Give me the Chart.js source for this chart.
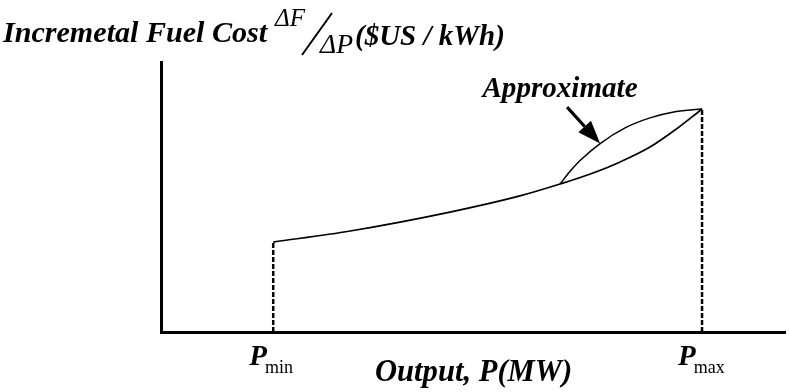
<!DOCTYPE html>
<html>
<head>
<meta charset="utf-8">
<script src="https://cdn.jsdelivr.net/npm/chart.js@4"></script>
<style>
  html, body { margin: 0; padding: 0; background: #fff; }
  #wrap { width: 789px; height: 392px; }
</style>
</head>
<body>
<div id="wrap"><canvas id="costChart"></canvas></div>
<script>
// output axis (arbitrary MW units) and incremental cost (arbitrary $/kWh units)
const pMin = 2.07;
const pMax = 9.98;
const xMax = 11.51;
const yMax = 10;

// actual incremental cost curve
const actualX = [2.07, 3.49, 5.33, 6.62, 7.36, 7.92, 8.47, 9.02, 9.48, 9.98];
const actualY = [3.33, 3.74, 4.44, 5.04, 5.48, 5.85, 6.30, 6.85, 7.48, 8.26];

// approximate curve over the upper segment
const approxX = [7.36, 7.55, 7.73, 8.10, 8.56, 9.02, 9.48, 9.98];
const approxY = [5.48, 5.96, 6.35, 6.98, 7.56, 7.93, 8.16, 8.26];

// arrow pointing at the approximate curve (data units)
const arrowFrom = [7.49, 8.33];
const arrowTo = [8.10, 6.98];
const approxLabelAt = [7.36, 8.70];

const tickLabels = [
    { value: pMin, main: 'P', sub: 'min' },
    { value: pMax, main: 'P', sub: 'max' }
];

const toPoints = (xs, ys) => xs.map((x, i) => ({ x: x, y: ys[i] }));

const serif = '"Liberation Serif", "Times New Roman", serif';

function fitFont(ctx, text, width, style) {
    ctx.font = style + ' 100px ' + serif;
    const size = 100 * width / ctx.measureText(text).width;
    ctx.font = style + ' ' + size.toFixed(1) + 'px ' + serif;
}

const drawingPlugin = {
    id: 'drawing',
    afterDatasetsDraw(chart) {
        const ctx = chart.ctx;
        const xs = chart.scales.x;
        const ys = chart.scales.y;
        ctx.save();
        ctx.fillStyle = '#000';
        ctx.strokeStyle = '#000';

        // arrow
        const x1 = xs.getPixelForValue(arrowFrom[0]);
        const y1 = ys.getPixelForValue(arrowFrom[1]);
        const x2 = xs.getPixelForValue(arrowTo[0]);
        const y2 = ys.getPixelForValue(arrowTo[1]);
        const ang = Math.atan2(y2 - y1, x2 - x1);
        const headLen = 23, headW = 8.5;
        const bx = x2 - headLen * Math.cos(ang);
        const by = y2 - headLen * Math.sin(ang);
        ctx.lineWidth = 3.2;
        ctx.beginPath();
        ctx.moveTo(x1, y1);
        ctx.lineTo(bx, by);
        ctx.stroke();
        ctx.beginPath();
        ctx.moveTo(x2, y2);
        ctx.lineTo(bx + headW * Math.sin(ang), by - headW * Math.cos(ang));
        ctx.lineTo(bx - headW * Math.sin(ang), by + headW * Math.cos(ang));
        ctx.closePath();
        ctx.fill();

        // "Approximate" label
        ctx.textAlign = 'center';
        ctx.textBaseline = 'alphabetic';
        fitFont(ctx, 'Approximate', 155, 'italic bold');
        ctx.fillText('Approximate', xs.getPixelForValue(approxLabelAt[0]), ys.getPixelForValue(approxLabelAt[1]));

        // tick labels P_min, P_max
        tickLabels.forEach(t => {
            const px = xs.getPixelForValue(t.value);
            ctx.textAlign = 'left';
            ctx.font = 'italic bold 29px ' + serif;
            const pw = ctx.measureText(t.main).width;
            const left = px - 24;
            ctx.fillText(t.main, left, 365);
            ctx.font = '18px ' + serif;
            ctx.fillText(t.sub, left + pw - 2, 373);
        });

        // x axis title
        ctx.textAlign = 'left';
        fitFont(ctx, 'Output, P(MW)', 197, 'italic bold');
        ctx.fillText('Output, P(MW)', 375, 381);

        // y axis title
        fitFont(ctx, 'Incremetal Fuel Cost', 264, 'italic bold');
        ctx.fillText('Incremetal Fuel Cost', 3, 42);
        fitFont(ctx, '\u0394F', 30, 'italic');
        ctx.fillText('\u0394F', 275, 26);
        ctx.lineWidth = 2;
        ctx.beginPath();
        ctx.moveTo(302, 55);
        ctx.lineTo(332, 13);
        ctx.stroke();
        fitFont(ctx, '\u0394P', 33, 'italic');
        ctx.fillText('\u0394P', 320, 53);
        fitFont(ctx, '($US / kWh)', 150, 'italic bold');
        ctx.fillText('($US / kWh)', 355, 45);

        ctx.restore();
    }
};

new Chart(document.getElementById('costChart'), {
    type: 'line',
    data: {
        datasets: [
            {
                label: 'Actual',
                data: toPoints(actualX, actualY),
                borderColor: '#000',
                borderWidth: 1.7,
                cubicInterpolationMode: 'monotone',
                pointRadius: 0
            },
            {
                label: 'Approximate',
                data: toPoints(approxX, approxY),
                borderColor: '#000',
                borderWidth: 1.5,
                cubicInterpolationMode: 'monotone',
                pointRadius: 0
            },
            {
                label: 'Pmin',
                data: [{ x: pMin, y: 0 }, { x: pMin, y: actualY[0] }],
                borderColor: '#000',
                borderWidth: 2.5,
                borderDash: [5, 2],
                pointRadius: 0
            },
            {
                label: 'Pmax',
                data: [{ x: pMax, y: 0 }, { x: pMax, y: actualY[actualY.length - 1] }],
                borderColor: '#000',
                borderWidth: 2.5,
                borderDash: [5, 2],
                pointRadius: 0
            }
        ]
    },
    options: {
        responsive: true,
        maintainAspectRatio: false,
        animation: false,
        layout: { padding: { left: 161, top: 62, right: 4, bottom: 60 } },
        plugins: {
            legend: { display: false },
            tooltip: { enabled: false }
        },
        scales: {
            x: {
                type: 'linear',
                min: 0,
                max: xMax,
                grid: { display: false, drawTicks: false },
                ticks: { display: false },
                border: { color: '#000', width: 3 }
            },
            y: {
                min: 0,
                max: yMax,
                grid: { display: false, drawTicks: false },
                ticks: { display: false },
                border: { color: '#000', width: 3 }
            }
        }
    },
    plugins: [drawingPlugin]
});
</script>
</body>
</html>
